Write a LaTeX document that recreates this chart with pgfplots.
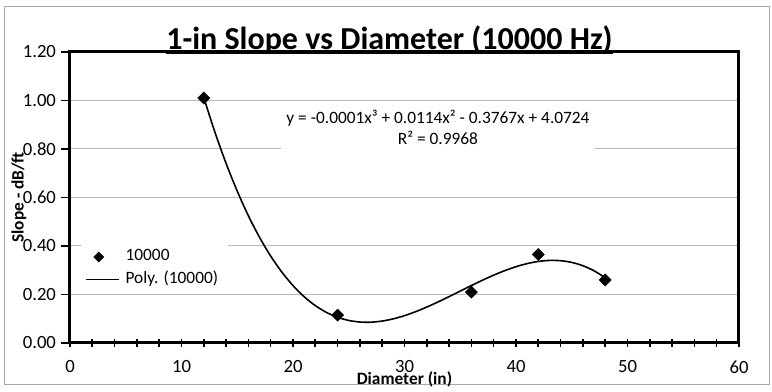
\documentclass[border=0pt]{standalone}
\usepackage{pgfplots}
\pgfplotsset{compat=1.18}
\usepackage{fontspec}
\setmainfont{Carlito}

\pgfplotstableread{
x y
12 1.01
24 0.115
36 0.21
42 0.365
48 0.26
}\pointdata

\pgfplotstableread{
x y
12 1.0118
13 0.8690
14 0.7406
15 0.6261
16 0.5246
17 0.4356
18 0.3584
19 0.2923
20 0.2367
21 0.1909
22 0.1543
23 0.1262
24 0.1060
25 0.0930
26 0.0865
27 0.0859
28 0.0905
29 0.0997
30 0.1128
31 0.1292
32 0.1482
33 0.1691
34 0.1913
35 0.2141
36 0.2369
37 0.2590
38 0.2798
39 0.2985
40 0.3147
41 0.3274
42 0.3363
43 0.3405
44 0.3394
45 0.3323
46 0.3187
47 0.2978
48 0.2690
}\trenddata

\begin{document}
\begin{tikzpicture}
\useasboundingbox (-52.5pt,-36.75pt) rectangle (526.5pt,257.25pt);
\fill[white] (-52.5pt,-36.75pt) rectangle (526.5pt,257.25pt);
\draw[gray!70, line width=0.75pt] (-48.75pt,-31.5pt) rectangle (524.25pt,252pt);
\begin{axis}[
  at={(0pt,0pt)}, anchor=south west,
  scale only axis, width=501.75pt, height=218.25pt,
  xmin=0, xmax=60, ymin=0, ymax=1.2,
  xtick={0,10,20,30,40,50,60},
  ytick={0,0.2,0.4,0.6,0.8,1.0,1.2},
  minor x tick num=4,
  xtick pos=bottom, ytick pos=left,
  xtick align=center, ytick align=outside,
  major tick length=6.5pt, minor tick length=5.5pt,
  tick style={black, line width=1.2pt},
  ymajorgrids, major grid style={gray!55, line width=0.75pt},
  axis line style={line width=2.25pt},
  tick label style={font=\fontsize{14}{16.8}\selectfont},
  /pgf/number format/assume math mode=true,
  yticklabel style={xshift=-0.5pt, /pgf/number format/.cd, fixed, fixed zerofill, precision=2},
  xticklabel style={yshift=-6.5pt},
  xlabel={Diameter (in)},
  ylabel={Slope - dB/ft},
  label style={font=\fontsize{13}{15.6}\selectfont\bfseries},
  xlabel style={at={(axis description cs:0.5,0)}, anchor=base, yshift=-31pt},
  ylabel style={at={(axis description cs:0,0.5)}, anchor=center, yshift=38.25pt},
  legend style={at={(0.0165,0.34)}, anchor=north west, draw=none, fill=white,
    font=\fontsize{13}{15.6}\selectfont, row sep=2pt,
    nodes={inner xsep=4.3pt, inner ysep=0.5pt, text height=10pt, text depth=4pt}},
  legend cell align=left,
]
\addplot[only marks, mark=square*, mark size=3.2pt, mark options={rotate=45, fill=black, draw=black},
  legend image code/.code={\draw[opacity=0] (0pt,0pt) -- (24.75pt,0pt);
    \draw[mark=square*, mark size=2.6pt, mark options={rotate=45, fill=black, draw=black}] plot coordinates {(9.5pt,0pt)};}]
  table[x=x, y=y] {\pointdata};
\addlegendentry{10000}
\addplot[black, line width=1.2pt, smooth, no marks,
  legend image code/.code={\draw[black, line width=1.2pt] (0pt,0pt) -- (24.75pt,0pt);}]
  table[x=x, y=y] {\trenddata};
\addlegendentry{Poly. (10000)}
\end{axis}
\node[fill=white, inner xsep=4pt, inner ysep=4pt, align=center, font=\fontsize{13}{15.75}\selectfont]
  at (276pt,161.6pt) {y = -0.0001x³ + 0.0114x² - 0.3767x + 4.0724\\R² = 0.9968};
\node[anchor=base, inner sep=0pt, font=\fontsize{24}{28}\selectfont\bfseries] (T) at (239.6pt,219.75pt) {1-in Slope vs Diameter (10000 Hz)};
\draw[line width=1.8pt] ([yshift=-2pt]T.base west) -- ([yshift=-2pt]T.base east);
\end{tikzpicture}
\end{document}
